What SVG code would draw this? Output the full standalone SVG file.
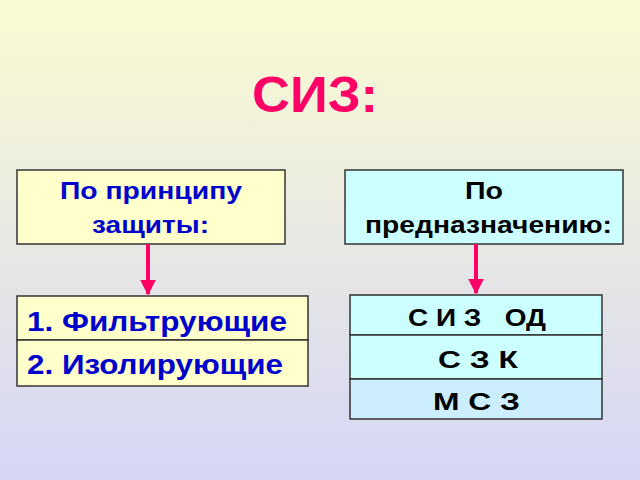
<svg xmlns="http://www.w3.org/2000/svg" width="640" height="480" viewBox="0 0 640 480">
<defs>
<linearGradient id="bg" x1="0" y1="0" x2="0" y2="1"><stop offset="0" stop-color="#fbfbd2"/><stop offset="1" stop-color="#d6d6f6"/></linearGradient>
<marker id="ah" viewBox="0 0 10 10" refX="9" refY="5" markerWidth="4" markerHeight="4" orient="auto"><path d="M0,0L10,5L0,10z" fill="#ff0066"/></marker>
</defs>
<style>
.b{stroke:#333;stroke-width:1.5}
.y{fill:#ffffcc}.c{fill:#ccffff}.c2{fill:#cceeff}
text{font-family:"Liberation Sans",Arial,sans-serif;font-weight:bold}
.bl{fill:#0000cc}.k{fill:#000}
</style>
<rect width="640" height="480" fill="url(#bg)"/>
<text x="252" y="112" font-size="50" fill="#ff0066" textLength="126" lengthAdjust="spacingAndGlyphs">СИЗ:</text>
<g id="n1"><rect class="b y" x="17" y="170" width="268" height="74"/><text class="bl" x="60" y="199" font-size="23" textLength="182" lengthAdjust="spacingAndGlyphs">По принципу</text><text class="bl" x="92" y="233" font-size="23" textLength="117" lengthAdjust="spacingAndGlyphs">защиты:</text></g>
<g id="n2"><rect class="b c" x="345" y="170" width="278" height="74"/><text class="k" x="465" y="199" font-size="23" textLength="38" lengthAdjust="spacingAndGlyphs">По</text><text class="k" x="365" y="233" font-size="23" textLength="247" lengthAdjust="spacingAndGlyphs">предназначению:</text></g>
<g id="n3"><rect class="b y" x="17" y="296" width="291" height="44"/><text class="bl" x="27" y="331" font-size="28" textLength="260" lengthAdjust="spacingAndGlyphs">1. Фильтрующие</text></g>
<g id="n4"><rect class="b y" x="17" y="340" width="291" height="46"/><text class="bl" x="27" y="374" font-size="28" textLength="256" lengthAdjust="spacingAndGlyphs">2. Изолирующие</text></g>
<g id="n5"><rect class="b c" x="350" y="295" width="252" height="40"/><text class="k" x="408" y="326" font-size="24" textLength="138" lengthAdjust="spacingAndGlyphs" xml:space="preserve">С И З   ОД</text></g>
<g id="n6"><rect class="b c" x="350" y="335" width="252" height="44"/><text class="k" x="438" y="368" font-size="24" textLength="80" lengthAdjust="spacingAndGlyphs">С З К</text></g>
<g id="n7"><rect class="b c2" x="350" y="379" width="252" height="40"/><text class="k" x="433" y="410" font-size="24" textLength="87" lengthAdjust="spacingAndGlyphs">М С З</text></g>
<g id="edges" stroke="#ff0066" stroke-width="4" marker-end="url(#ah)">
<line x1="148" y1="244" x2="148" y2="294"/>
<line x1="476" y1="244" x2="476" y2="293"/>
</g>
</svg>
